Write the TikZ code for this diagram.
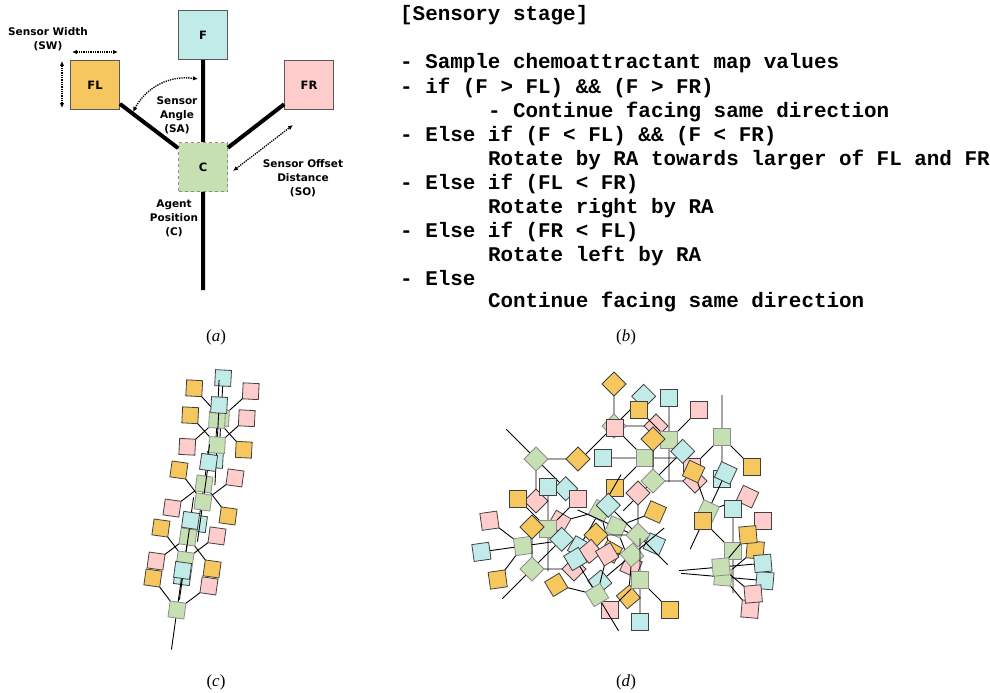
\documentclass[tikz,border=0pt]{standalone}
\usepackage{fontspec}
\usepackage{tikz}
\usetikzlibrary{arrows.meta}
\setmainfont{Liberation Serif}
\newfontfamily\labelfont{DejaVu Sans}
\newfontfamily\codefont{Liberation Mono}

\definecolor{fcol}{HTML}{C1EBE8}
\definecolor{flcol}{HTML}{F6C75F}
\definecolor{frcol}{HTML}{FFCCCC}
\definecolor{ccol}{HTML}{C6DFB3}

\tikzset{
  sensor/.style={draw=black!75, line width=0.8pt},
  agentline/.style={line width=0.9pt},
  box/.style={draw=black!65, line width=0.8pt, minimum size=49pt, inner sep=0pt,
    font=\labelfont\bfseries\fontsize{11.5}{13}\selectfont},
  stem/.style={line width=4pt},
  dim/.style={densely dotted, line width=1.3pt,
    {Latex[length=5pt,width=4.5pt]}-{Latex[length=5pt,width=4.5pt]}},
  lbl/.style={align=center, inner sep=0pt,
    font=\labelfont\bfseries\fontsize{10.5}{14}\selectfont},
  code/.style={anchor=base west, inner sep=0pt,
    font=\codefont\bfseries\fontsize{20.9}{24}\selectfont},
  caption/.style={inner sep=0pt, font=\fontsize{17}{20}\selectfont}
}

% one square of an agent, centred on (#1,#2)
\newcommand{\agentsq}[3]{%
  \filldraw[sensor, fill=#3] ({#1-\hs},{#2-\hs}) rectangle ({#1+\hs},{#2+\hs});}
% agent at (#1,#2), heading #3 (0 = up)
\newcommand{\agent}[3]{%
  \begin{scope}[shift={(#1,#2)}, rotate=#3]
    \draw[agentline] (0,\agd) -- (0,-\agd) (-\ags,-\ags) -- (0,0) -- (\ags,-\ags);
    \agentsq{0}{-\agd}{fcol}
    \agentsq{-\ags}{-\ags}{flcol}
    \agentsq{\ags}{-\ags}{frcol}
    \filldraw[sensor, draw=black!45, fill=ccol] (-\hs,-\hs) rectangle (\hs,\hs);
  \end{scope}}

\begin{document}
\begin{tikzpicture}[x=1pt, y=-1pt]
\useasboundingbox (0,0) rectangle (990,693);

% (a) sensor layout
\node[box, fill=fcol] (F) at (203,35) {F};
\node[box, fill=flcol] (FL) at (95,85) {FL};
\node[box, fill=frcol] (FR) at (309,85) {FR};
\node[box, fill=ccol, draw=black!45, dashed] (C) at (203,167) {C};
\coordinate (tail) at (203,290);
\draw[stem] (F) -- (C) (C) -- (tail) (C) -- (FL) (C) -- (FR);

\coordinate (sw1) at (72,52);
\coordinate (sw2) at (118,52);
\coordinate (sh1) at (62,61);
\coordinate (sh2) at (62,108);
\coordinate (sa1) at (133,112);
\coordinate (sa2) at (198,79);
\coordinate (so1) at (233,171);
\coordinate (so2) at (293,125);
\draw[dim] (sw1) -- (sw2);
\draw[dim] (sh1) -- (sh2);
\draw[dim] (sa1) to[bend left=35] (sa2);
\draw[dim] (so1) -- (so2);

\node[lbl] (swlbl) at (48,39) {Sensor Width\\(SW)};
\node[lbl] (salbl) at (177,115) {Sensor\\Angle\\(SA)};
\node[lbl] (solbl) at (303,178) {Sensor Offset\\Distance\\(SO)};
\node[lbl] (aplbl) at (174,218) {Agent\\Position\\(C)};

% (b) sensory stage
\node[code] (l0) at (400,21) {[Sensory stage]};
\node[code] (l1) at (400,69) {- Sample chemoattractant map values};
\node[code] (l2) at (400,93) {- if (F > FL) \&\& (F > FR)};
\node[code] (l3) at (487.8,117) {- Continue facing same direction};
\node[code] (l4) at (400,141) {- Else if (F < FL) \&\& (F < FR)};
\node[code] (l5) at (487.8,165) {Rotate by RA towards larger of FL and FR};
\node[code] (l6) at (400,189) {- Else if (FL < FR)};
\node[code] (l7) at (487.8,213) {Rotate right by RA};
\node[code] (l8) at (400,237) {- Else if (FR < FL)};
\node[code] (l9) at (487.8,261) {Rotate left by RA};
\node[code] (l10) at (400,285) {- Else};
\node[code] (l11) at (487.8,307) {Continue facing same direction};

% (c) agents along a trail
\begin{scope}
\def\agd{40} \def\ags{28.3} \def\hs{8}
\agent{221}{418}{-3}
\agent{217}{420}{177}
\agent{217}{445}{-3}
\agent{204}{484}{172}
\agent{203}{502}{-8}
\agent{188}{537}{172}
\agent{185}{560}{-8}
\agent{177}{610}{-8}
\end{scope}

% (d) agents scattered
\begin{scope}
\def\agd{42} \def\ags{29.7} \def\hs{8.5}
\agent{614}{426}{-45}
\agent{669}{440}{0}
\agent{722}{437}{180}
\agent{536}{459}{-135}
\agent{645}{458}{90}
\agent{653}{481}{-45}
\agent{708}{511}{-25}
\agent{600}{511}{150}
\agent{616}{527}{-114}
\agent{548}{529}{0}
\agent{638}{535}{45}
\agent{523}{546}{98}
\agent{632}{555}{130}
\agent{733}{551}{0}
\agent{723}{577}{-95}
\agent{721}{567}{-85}
\agent{532}{569}{-45}
\agent{640}{580}{180}
\agent{597}{595}{31}
\end{scope}

% captions
\node[caption] (capa) at (216,337) {(\textit{a})};
\node[caption] (capb) at (626,337) {(\textit{b})};
\node[caption] (capc) at (216,682) {(\textit{c})};
\node[caption] (capd) at (626,682) {(\textit{d})};
\end{tikzpicture}
\end{document}
